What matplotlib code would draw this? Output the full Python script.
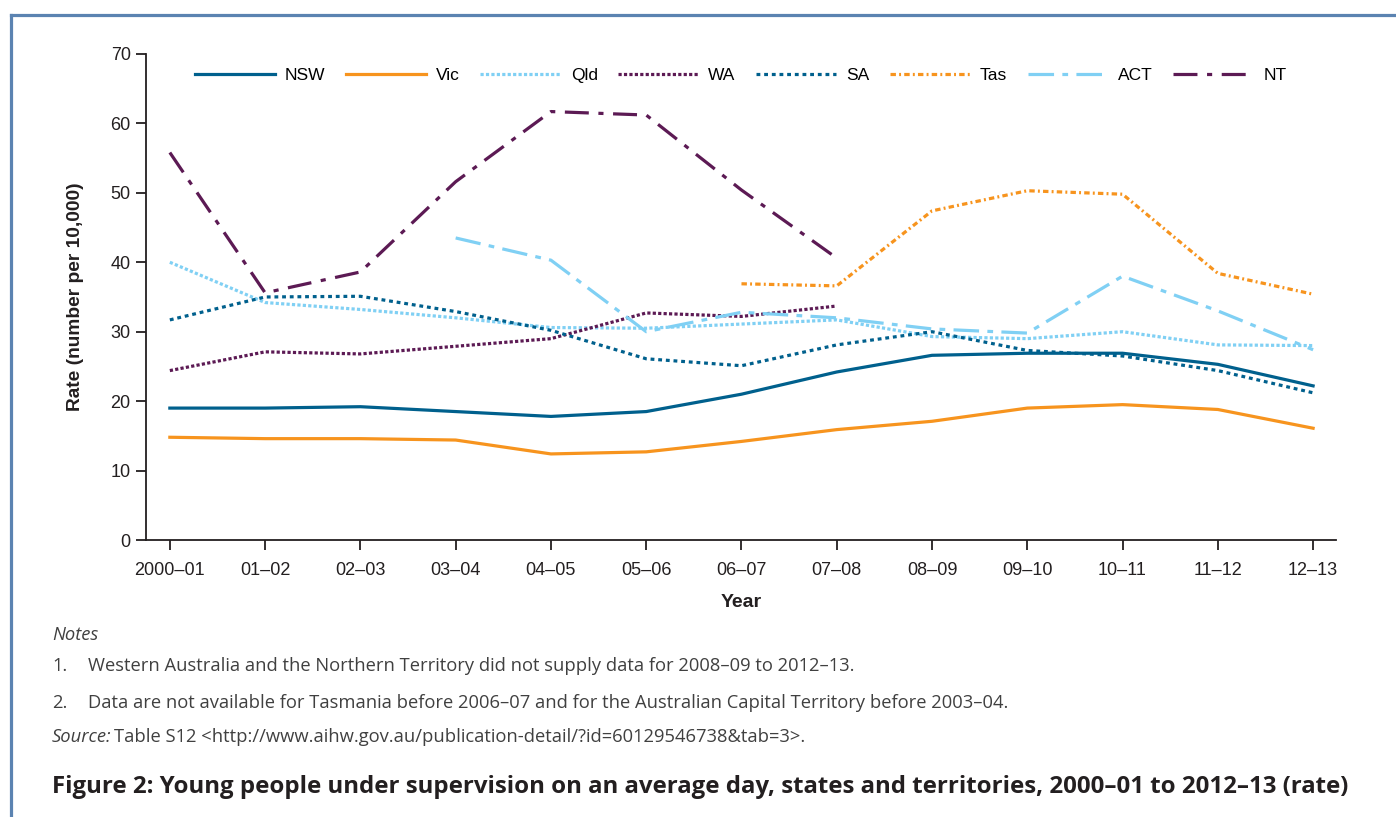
import matplotlib
matplotlib.use('Agg')
import matplotlib.pyplot as plt
from matplotlib.lines import Line2D

plt.rcParams['font.family'] = ['Liberation Sans', 'DejaVu Sans']

years = ['2000–01', '01–02', '02–03', '03–04', '04–05', '05–06', '06–07',
         '07–08', '08–09', '09–10', '10–11', '11–12', '12–13']
nan = float('nan')

nsw = [19.0, 19.0, 19.2, 18.5, 17.8, 18.5, 21.0, 24.2, 26.6, 26.9, 26.9, 25.3, 22.2]
vic = [14.8, 14.6, 14.6, 14.4, 12.4, 12.7, 14.2, 15.9, 17.1, 19.0, 19.5, 18.8, 16.1]
qld = [40.0, 34.2, 33.2, 32.0, 30.6, 30.5, 31.1, 31.7, 29.3, 29.0, 30.0, 28.1, 28.0]
wa = [24.4, 27.1, 26.8, 27.9, 29.0, 32.7, 32.2, 33.7, nan, nan, nan, nan, nan]
sa = [31.7, 35.0, 35.1, 32.9, 30.2, 26.1, 25.1, 28.1, 30.0, 27.3, 26.5, 24.4, 21.2]
tas = [nan, nan, nan, nan, nan, nan, 36.9, 36.6, 47.4, 50.3, 49.8, 38.4, 35.4]
act = [nan, nan, nan, 43.5, 40.3, 30.0, 32.8, 32.0, 30.4, 29.8, 38.0, 33.0, 27.4]
nt = [55.8, 35.6, 38.6, 51.6, 61.7, 61.2, 50.4, 40.6, nan, nan, nan, nan, nan]

dblue = '#00608d'
orange = '#f7941e'
lblue = '#80d0f4'
purple = '#5c1a54'

series = [
    ('NSW', nsw, dblue, None),
    ('Vic', vic, orange, None),
    ('Qld', qld, lblue, (1.0, 0.7)),
    ('WA', wa, purple, (1.0, 0.7)),
    ('SA', sa, dblue, (1.2, 1.2)),
    ('Tas', tas, orange, (1.7, 1.0, 0.6, 1.0)),
    ('ACT', act, lblue, (8.0, 2.6, 1.8, 2.6)),
    ('NT', nt, purple, (7.5, 3.0, 1.6, 3.0)),
]

fig = plt.figure(figsize=(13.96, 8.17), dpi=100)
ax = fig.add_axes([0.1046, 0.339, 0.8524, 0.595])

x = list(range(len(years)))
for name, vals, col, dash in series:
    line, = ax.plot(x, vals, color=col, lw=2.3, label=name)
    if dash is not None:
        line.set_dashes(dash)

ax.set_xlim(-0.25, 12.24)
ax.set_ylim(0, 70)
ax.set_xticks(x)
ax.set_xticklabels(years)
ax.set_yticks(range(0, 71, 10))
for s in ['top', 'right']:
    ax.spines[s].set_visible(False)
for s in ['left', 'bottom']:
    ax.spines[s].set_linewidth(1.3)
    ax.spines[s].set_color('#231f20')
ax.tick_params(axis='both', length=7, width=1.3, color='#231f20',
               labelsize=13, labelcolor='#231f20')
ax.tick_params(axis='x', pad=9)
ax.tick_params(axis='y', pad=4)

ax.set_xlabel('Year', fontsize=14, fontweight='bold', color='#231f20')
ax.xaxis.set_label_coords(0.5, -0.112)
ax.set_ylabel('Rate (number per 10,000)', fontsize=13.8, fontweight='bold',
              color='#231f20')
ax.yaxis.set_label_coords(-0.052, 0.5)

ax.legend(loc='center left', bbox_to_anchor=(0.041, 0.955), ncol=8,
          frameon=False, fontsize=12.5, handlelength=4.6, handletextpad=0.6,
          columnspacing=1.17, borderpad=0, borderaxespad=0)

# notes and title below the chart
nfont = ['Open Sans', 'DejaVu Sans']
ncol = '#404040'
nsize = 13.2
fig.text(0.0372, 0.2228, 'Notes', fontsize=nsize, style='italic', color=ncol,
         family=nfont, va='center')
fig.text(0.0372, 0.1848, '1.', fontsize=nsize, color=ncol, family=nfont, va='center')
fig.text(0.063, 0.1848, 'Western Australia and the Northern Territory did not supply '
         'data for 2008–09 to 2012–13.', fontsize=nsize, color=ncol, family=nfont,
         va='center')
fig.text(0.0372, 0.1395, '2.', fontsize=nsize, color=ncol, family=nfont, va='center')
fig.text(0.063, 0.1395, 'Data are not available for Tasmania before 2006–07 and for '
         'the Australian Capital Territory before 2003–04.', fontsize=nsize,
         color=ncol, family=nfont, va='center')
src = fig.text(0.0372, 0.0979, 'Source:', fontsize=nsize, style='italic', color=ncol,
               family=nfont, va='center')
ax.annotate('Table S12 <http://www.aihw.gov.au/publication-detail/?id=60129546738&tab=3>.',
            xy=(1, 0), xycoords=src, xytext=(2, 0), textcoords='offset points',
            va='bottom', ha='left', fontsize=nsize,
            color=ncol, family=nfont, annotation_clip=False)
fig.text(0.0372, 0.0367, 'Figure 2: Young people under supervision on an average day, '
         'states and territories, 2000–01 to 2012–13 (rate)', fontsize=17.3,
         fontweight='bold', color='#231f20', family=nfont, va='center')

# blue frame round the figure
bcol = '#5b83b1'
fig.add_artist(Line2D([11 / 1396, 11 / 1396], [1 - 15 / 817, 0], color=bcol,
                      lw=2.3, transform=fig.transFigure, solid_capstyle='projecting'))
fig.add_artist(Line2D([11 / 1396, 1], [1 - 15 / 817, 1 - 15 / 817], color=bcol,
                      lw=2.3, transform=fig.transFigure, solid_capstyle='projecting'))

fig.savefig('out.png', dpi=100)
